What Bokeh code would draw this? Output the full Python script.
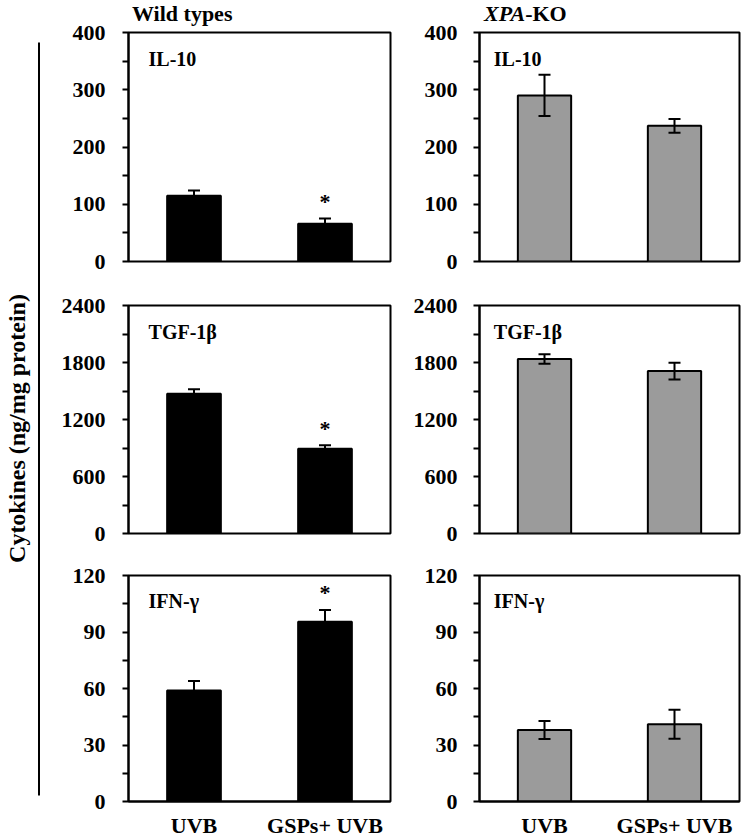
import math
from bokeh.plotting import figure
from bokeh.models import (Range1d, FactorRange, FixedTicker, Whisker, TeeHead,
                          ColumnDataSource, Label, Div)
from bokeh.layouts import row, column
from bokeh.embed import file_html
from bokeh.resources import INLINE
from bokeh.core.properties import value

# ---------------- data ----------------
groups = ["UVB", "GSPs+ UVB"]
panel_names = ["IL-10", "TGF-1\u03b2", "IFN-\u03b3"]
wt_title = "Wild types"
ko_title_italic = "XPA"
ko_title_rest = "-KO"
y_max = [400, 2400, 120]
y_step = [100, 600, 30]

wt_il10 = [115, 66]
wt_il10_err = [9, 9]
wt_tgf = [1472, 893]
wt_tgf_err = [46, 35]
wt_ifn = [59, 95.4]
wt_ifn_err = [5, 6.3]

ko_il10 = [290, 237]
ko_il10_err = [36, 12]
ko_tgf = [1837, 1710]
ko_tgf_err = [50, 88]
ko_ifn = [38, 41]
ko_ifn_err = [4.8, 7.7]

wt_signif = [[False, True], [False, True], [False, True]]
ko_signif = [[False, False], [False, False], [False, False]]

# ---------------- style ----------------
FONT = "Liberation Serif"
TICK_FS = "22px"
STRIP_H = 20
LAB_W = 48
frame_h = [229, 228, 226]
top_b = [12, 22, 21]
bot_b = [22, 21, 36]


def make_panel(vals, errs, ymax, step, name, fill, signif, left_b, fw, right_b,
               tb, bb, fh, show_x, name_dx, standoff):
    p = figure(x_range=FactorRange(factors=groups, range_padding=0),
               y_range=Range1d(0, ymax),
               frame_width=fw, frame_height=fh,
               min_border_left=left_b, min_border_right=right_b,
               min_border_top=tb, min_border_bottom=bb,
               x_axis_location="below" if show_x else None,
               output_backend="svg", toolbar_location=None)
    p.title.visible = False
    src = ColumnDataSource(dict(x=groups, top=vals,
                                upper=[v + e for v, e in zip(vals, errs)],
                                lower=[v - e for v, e in zip(vals, errs)]))
    p.vbar(x="x", top="top", width=0.41, source=src, fill_color=fill,
           line_color="black", line_width=2)
    w = Whisker(source=src, base="x", upper="upper", lower="lower",
                dimension="height", line_color="black", line_width=2,
                upper_head=TeeHead(size=12, line_color="black", line_width=2),
                lower_head=TeeHead(size=12, line_color="black", line_width=2),
                level="overlay")
    p.add_layout(w)

    # significance stars
    px_per_unit = fh / ymax
    sx, sy = [], []
    for g, v, e, s in zip(groups, vals, errs, signif):
        if s:
            sx.append(g)
            sy.append(v + e + 17 / px_per_unit)
    if sx:
        p.text(x=sx, y=sy, text=["*"] * len(sx), text_font=value(FONT),
               text_font_style="bold", text_font_size="22px",
               text_align="center", text_baseline="middle", text_color="black")

    p.add_layout(Label(x=name_dx, y=0.885 * ymax, text=name, text_font=FONT,
                       text_font_style="bold", text_font_size="20px",
                       text_baseline="middle", text_align="left",
                       text_color="black"))

    p.xgrid.visible = False
    p.ygrid.visible = False
    p.outline_line_color = "black"
    p.outline_line_width = 2
    p.outline_line_alpha = 1
    p.background_fill_color = "white"
    p.border_fill_alpha = 0

    ya = p.yaxis[0]
    ya.ticker = FixedTicker(ticks=list(range(0, ymax + 1, step)),
                            minor_ticks=[step / 2 + k * step for k in range(ymax // step)])
    ya.axis_line_width = 2
    ya.axis_line_color = "black"
    ya.major_tick_line_width = 2
    ya.minor_tick_line_width = 2
    ya.major_tick_out = 6
    ya.major_tick_in = 0
    ya.minor_tick_out = 6
    ya.minor_tick_in = 0
    ya.major_label_text_font = FONT
    ya.major_label_text_font_style = "bold"
    ya.major_label_text_font_size = TICK_FS
    ya.major_label_text_color = "black"
    ya.major_label_standoff = standoff

    if show_x:
        xa = p.xaxis[0]
        xa.axis_line_width = 2
        xa.axis_line_color = "black"
        xa.major_tick_out = 0
        xa.major_tick_in = 0
        xa.minor_tick_out = 0
        xa.major_label_text_font = FONT
        xa.major_label_text_font_style = "bold"
        xa.major_label_text_font_size = "22px"
        xa.major_label_text_color = "black"
        xa.major_label_standoff = 11
    return p


wt_vals = [wt_il10, wt_tgf, wt_ifn]
wt_errs = [wt_il10_err, wt_tgf_err, wt_ifn_err]
ko_vals = [ko_il10, ko_tgf, ko_ifn]
ko_errs = [ko_il10_err, ko_tgf_err, ko_ifn_err]

rows = []
for i in range(3):
    left = make_panel(wt_vals[i], wt_errs[i], y_max[i], y_step[i], panel_names[i],
                      "black", wt_signif[i], 80, 262, 10, top_b[i], bot_b[i],
                      frame_h[i], i == 2, 0.153, 17)
    right = make_panel(ko_vals[i], ko_errs[i], y_max[i], y_step[i], panel_names[i],
                       "#9b9b9b", ko_signif[i], 79, 260, 5, top_b[i], bot_b[i],
                       frame_h[i], i == 2, 0.11, 16)
    rows.append(row(left, right))

# column titles (HTML, so that "XPA" can be italic inside one title)
strip_w = 352 + 344
span_style = ("position:absolute;top:2px;white-space:nowrap;"
              "font-family:'Liberation Serif';font-weight:bold;"
              "font-size:22px;line-height:24px;color:black;")
title_html = (
    f'<div style="position:relative;width:{strip_w}px;height:{STRIP_H}px;overflow:visible;">'
    f'<span style="{span_style}left:84px;">{wt_title}</span>'
    f'<span style="{span_style}left:436px;"><i>{ko_title_italic}</i>{ko_title_rest}</span>'
    '</div>'
)
strip = Div(text=title_html, width=strip_w, height=STRIP_H, margin=0,
            styles={"overflow": "visible", "padding": "0", "margin": "0"})

total_h = STRIP_H + sum(t + f + b for t, f, b in zip(top_b, frame_h, bot_b))

# y-axis title figure with the vertical rule
lab = figure(width=LAB_W, height=total_h, x_range=Range1d(0, LAB_W),
             y_range=Range1d(0, total_h), min_border=0,
             x_axis_location=None, y_axis_location=None,
             output_backend="svg", toolbar_location=None)
lab.title.visible = False
lab.grid.visible = False
lab.outline_line_color = None
lab.border_fill_alpha = 0
lab.segment(x0=[38.5], y0=[total_h - 42], x1=[38.5], y1=[total_h - 795],
            line_color="black", line_width=2)
lab.text(x=[16], y=[total_h - 428], text=["Cytokines (ng/mg protein)"],
         angle=math.pi / 2, text_font=value(FONT), text_font_style="bold",
         text_font_size="24px", text_align="center", text_baseline="middle",
         text_color="black")

layout = row(lab, column(strip, *rows))

open("out.html", "w").write(file_html(layout, INLINE))
